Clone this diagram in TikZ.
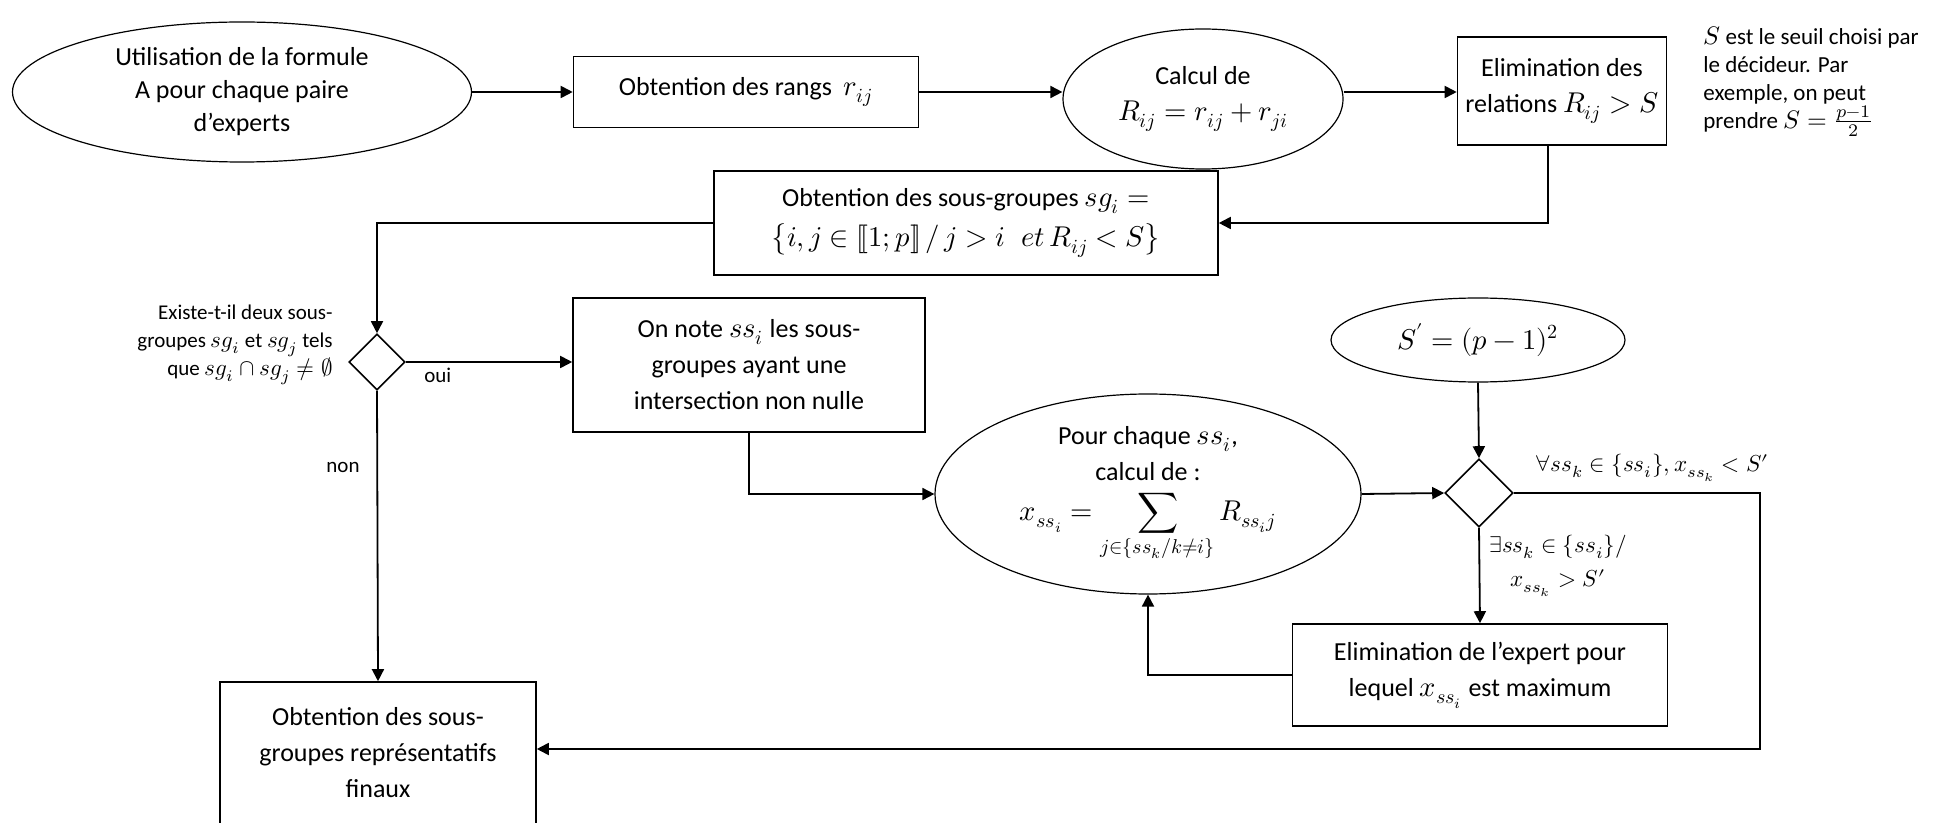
\documentclass[tikz,border=0pt]{standalone}
\usepackage{amsmath}
\usepackage{fontspec}
\usepackage{unicode-math}
\setmainfont{Carlito}
\setmathfont{Latin Modern Math}[Scale=1.1]
\usetikzlibrary{shapes.geometric,arrows.meta,calc}
\begin{document}
\begin{tikzpicture}[x=0.5pt,y=-0.5pt,
  font=\fontsize{13}{18}\selectfont,
  box/.style={draw, line width=0.8pt, rectangle, align=center, inner sep=0pt},
  ell/.style={draw, line width=0.6pt, ellipse, align=center, inner sep=0pt},
  dia/.style={draw, line width=0.8pt, diamond, inner sep=0pt},
  conn/.style={line width=0.9pt},
  arr/.style={conn, -{Triangle[length=6pt,width=6pt]}},
  small/.style={font=\fontsize{10.5}{14}\selectfont},
  notefont/.style={font=\fontsize{11.5}{14}\selectfont}]
\clip (0,0) rectangle (1954,823);

\node[ell, minimum width=229.5pt, minimum height=70pt, font=\fontsize{13}{16.5}\selectfont] (e1) at (242,92) {Utilisation de la formule\\A pour chaque paire\\d’experts};
\node[box, minimum width=172.5pt, minimum height=35.5pt] (rangs) at (746,92) {Obtention des rangs~ $r_{ij}$};
\node[ell, minimum width=140pt, minimum height=70pt] (calc) at (1203,99) {Calcul de\\$R_{ij}=r_{ij}+r_{ji}$};
\node[box, minimum width=104.5pt, minimum height=54pt] (elim) at (1562,91) {Elimination des\\relations $R_{ij}>S$};
\node[notefont, align=left, anchor=north west, inner sep=0pt] (note) at (1703,26) {$S$ est le seuil choisi par\\le décideur. Par\\exemple, on peut\\prendre $S=\frac{p-1}{2}$};
\node[box, minimum width=252pt, minimum height=52pt] (sg) at (966,223) {Obtention des sous-groupes $sg_i=$\\[2pt]$\bigl\{i,j\in [\![1;p]\!] \,/\, j>i \;\; et\, R_{ij}<S\bigr\}$};
\node[dia, minimum width=28pt, minimum height=28pt] (d1) at (377,362) {};
\node[small, align=right, anchor=east, inner sep=0pt] (q1) at (333,345) {Existe-t-il deux sous-\\groupes $sg_i$ et $sg_j$ tels\\que $sg_i\cap sg_j\neq\varnothing$};
\node[box, minimum width=176pt, minimum height=67pt] (onnote) at (749,365) {On note $ss_i$ les sous-\\groupes ayant une\\intersection non nulle};
\node[ell, minimum width=213pt, minimum height=100pt] (pour) at (1148,494) {Pour chaque $ss_i$,\\calcul de :\\[2pt]$x_{ss_i}=\displaystyle\sum_{j\in\{ss_k/k\neq i\}} R_{ss_ij}$};
\node[dia, minimum width=34pt, minimum height=34pt] (d2) at (1479,493) {};
\node[ell, minimum width=147pt, minimum height=42pt] (sp) at (1478,340) {$S'=(p-1)^2$};
\node[box, minimum width=187.5pt, minimum height=51pt] (elimx) at (1480,675) {Elimination de l’expert pour\\lequel $x_{ss_i}$ est maximum};
\node[box, minimum width=158pt, minimum height=71pt] (final) at (378,753) {Obtention des sous-\\groupes représentatifs\\finaux};

\node[small, anchor=south west, inner sep=0pt] (lab1) at (1535,482) {$\forall ss_k\in\{ss_i\}, x_{ss_k}<S'$};
\node[small, align=center, inner sep=0pt] (lab2) at (1558,566) {$\exists ss_k\in\{ss_i\}/$\\[3pt]$x_{ss_k}>S'$};
\node[small, inner sep=0pt] (non) at (343,467) {non};
\node[small, anchor=north west, inner sep=0pt] (oui) at (424,368) {oui};

\coordinate (r1) at (1760,493);
\coordinate (r2) at (1760,749);
\coordinate (edown) at (1548,0);

\draw[arr] (e1.east) -- (rangs.west);
\draw[arr] (rangs.east) -- (rangs.east -| calc.west);
\draw[arr] (rangs.east -| calc.east) -- (rangs.east -| elim.west);
\draw[arr] (elim.south -| edown) |- (sg.east);
\draw[arr] (sg.west) -| (d1.north);
\draw[arr] (d1.east) -- (d1.east -| onnote.west);
\draw[arr] (onnote.south) |- (pour.west);
\draw[arr] (pour.east) -- (d2.west);
\draw[arr] (sp.south) -- (d2.north);
\draw[arr] (d2.south) -- (elimx.north);
\draw[arr] (elimx.west) -| (pour.south);
\draw[arr] (d2.east) -- (r1) -- (r2) -- (r2 -| final.east);
\draw[arr] (d1.south) -- (final.north);
\end{tikzpicture}
\end{document}
